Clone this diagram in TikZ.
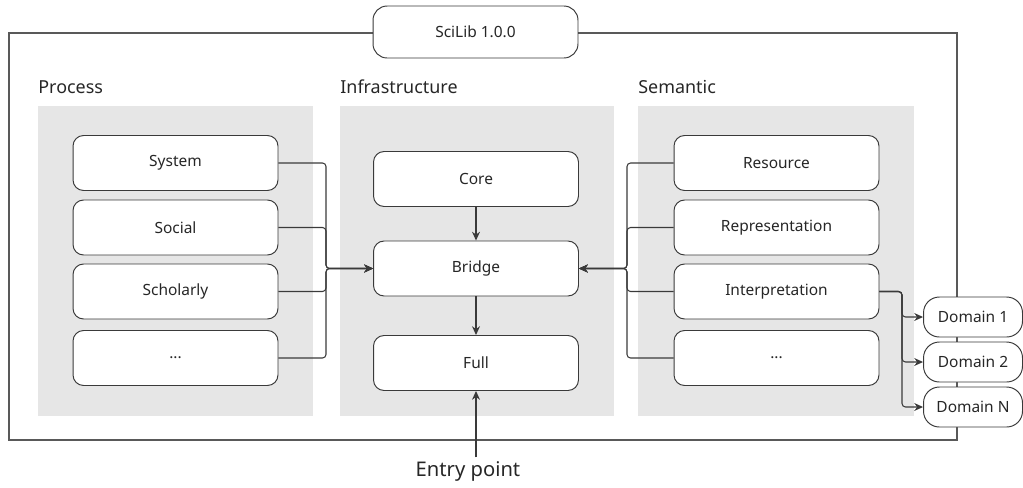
\documentclass[tikz,border=0pt]{standalone}
\usepackage{fontspec}
\setmainfont{Noto Sans}
\usetikzlibrary{arrows.meta}
\definecolor{linegray}{HTML}{3A3A3A}
\definecolor{panelgray}{HTML}{E6E6E6}

\begin{document}
\begin{tikzpicture}[x=0.02cm, y=-0.02cm,
      every node/.style = {font=\fontsize{8.8}{10}\selectfont, text=black!85},
      box/.style = {shape=rectangle, rounded corners=6pt, draw=linegray,
        line width=0.55pt, fill=white, minimum width=4.1cm, minimum height=1.1cm},
      domainbox/.style = {shape=rectangle, rounded corners=9pt, draw=linegray,
        line width=0.55pt, fill=white, minimum width=1.98cm, minimum height=0.8cm},
      grouplabel/.style = {anchor=base west, inner sep=0pt,
        font=\fontsize{10.2}{12}\selectfont},
      link/.style = {draw=linegray, line width=0.6pt, rounded corners=2pt,
        -{Stealth[length=5pt,width=4.5pt]}}]
  \useasboundingbox (0,0) rectangle (1023,487);

  % frame and panels
  \draw[draw=black!65, line width=0.6pt] (9,33) rectangle (957,440);
  \node[box, minimum height=1.04cm, rounded corners=8pt] (scilib) at (475.5,32) {SciLib 1.0.0};
  \fill[panelgray] (38,106) rectangle (313,416);
  \fill[panelgray] (340,106) rectangle (614,416);
  \fill[panelgray] (638,106) rectangle (914,416);
  \node[grouplabel] (process) at (38,93) {Process};
  \node[grouplabel] (infra) at (340,93) {Infrastructure};
  \node[grouplabel] (semantic) at (638,93) {Semantic};

  % process
  \node[box] (system) at (175.5,163) {System};
  \node[box] (social) at (175.5,227.5) {Social};
  \node[box] (scholarly) at (175.5,291.5) {Scholarly};
  \node[box] (pmore) at (175.5,358) {...};

  % infrastructure
  \node[box] (core) at (476,179) {Core};
  \node[box] (bridge) at (476,268.5) {Bridge};
  \node[box] (full) at (476,363) {Full};

  % semantic
  \node[box] (resource) at (776.5,163) {Resource};
  \node[box] (represent) at (776.5,227.5) {Representation};
  \node[box] (interp) at (776.5,291.5) {Interpretation};
  \node[box] (smore) at (776.5,358) {...};

  % domains
  \node[domainbox] (dom1) at (973,317) {Domain 1};
  \node[domainbox] (dom2) at (973,362) {Domain 2};
  \node[domainbox] (domN) at (973,407) {Domain N};

  \node[font=\fontsize{11.5}{13}\selectfont, inner sep=2pt] (entry) at (468,471) {Entry point};

  \coordinate (lbus) at (326,268.5);
  \coordinate (rbus) at (627,268.5);
  \coordinate (dbus) at (902,291.5);

  \foreach \n in {system, social, scholarly, pmore}
    \draw[link] (\n.east) -| (lbus) -- (bridge.west);
  \foreach \n in {resource, represent, interp, smore}
    \draw[link] (\n.west) -| (rbus) -- (bridge.east);
  \foreach \n in {dom1, dom2, domN}
    \draw[link] (interp.east) -- (dbus) |- (\n.west);
  \draw[link] (core) -- (bridge);
  \draw[link] (bridge) -- (full);
  \draw[link] (entry.north -| full.south) -- (full.south);
\end{tikzpicture}
\end{document}
